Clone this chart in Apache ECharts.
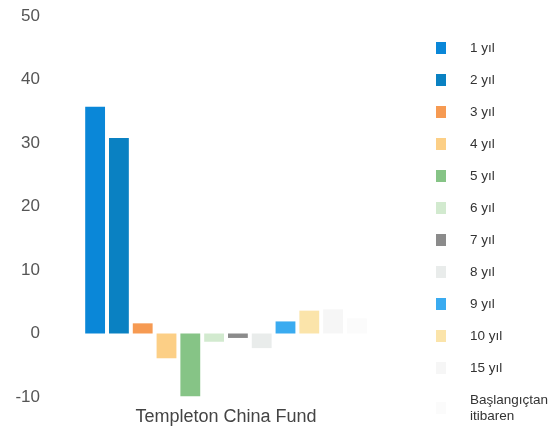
<!DOCTYPE html>
<html>
<head>
<meta charset="utf-8">
<script src="https://cdn.jsdelivr.net/npm/echarts@6/dist/echarts.min.js"></script>
<style>
  html, body { margin: 0; padding: 0; background: #fff; }
  #main { width: 556px; height: 432px; }
</style>
</head>
<body>
<div id="main"></div>
<script>
// fon adı (tek kategori)
const categories = ['Templeton China Fund'];
// dönemler
const periods = ['1 yıl', '2 yıl', '3 yıl', '4 yıl', '5 yıl', '6 yıl', '7 yıl', '8 yıl', '9 yıl', '10 yıl', '15 yıl', 'Başlangıçtan\nitibaren'];
// getiriler (%)
const returns = [35.7, 30.8, 1.6, -3.9, -9.9, -1.3, -0.7, -2.3, 1.9, 3.6, 3.8, 2.4];
const colors = ['#0a87d8', '#0a81c2', '#f69a52', '#fccf86', '#86c486', '#d2eacf', '#8b8b8b', '#e9eceb', '#3aabf0', '#fbe4aa', '#f6f6f6', '#fbfbfb'];
const yTicks = [-10, 0, 10, 20, 30, 40, 50];

const myChart = echarts.init(document.getElementById('main'));

myChart.setOption({
    animation: false,
    backgroundColor: '#fff',
    grid: { left: 50, top: 16, width: 352, bottom: 35, containLabel: false },
    legend: {
        orient: 'vertical',
        left: 431,
        top: 35,
        height: 396,
        itemWidth: 10,
        itemHeight: 12,
        itemGap: 16,
        icon: 'rect',
        data: periods,
        textStyle: {
            fontFamily: 'Liberation Sans',
            fontSize: 13.5,
            lineHeight: 16,
            color: '#333',
            padding: [0, 0, 0, 19]
        }
    },
    xAxis: {
        type: 'category',
        data: categories,
        axisLine: { show: false },
        axisTick: { show: false },
        axisLabel: {
            fontFamily: 'Liberation Sans',
            fontSize: 18,
            color: '#444',
            margin: 11
        }
    },
    yAxis: {
        type: 'value',
        min: yTicks[0],
        max: yTicks[yTicks.length - 1],
        interval: 10,
        splitLine: { show: false },
        axisLine: { show: false },
        axisTick: { show: false },
        axisLabel: {
            fontFamily: 'Liberation Sans',
            fontSize: 17,
            color: '#555',
            margin: 10
        }
    },
    series: periods.map((p, i) => ({
        name: p,
        type: 'bar',
        data: [returns[i]],
        barGap: '20%',
        barCategoryGap: '20%',
        itemStyle: { color: colors[i] }
    }))
});
</script>
</body>
</html>
